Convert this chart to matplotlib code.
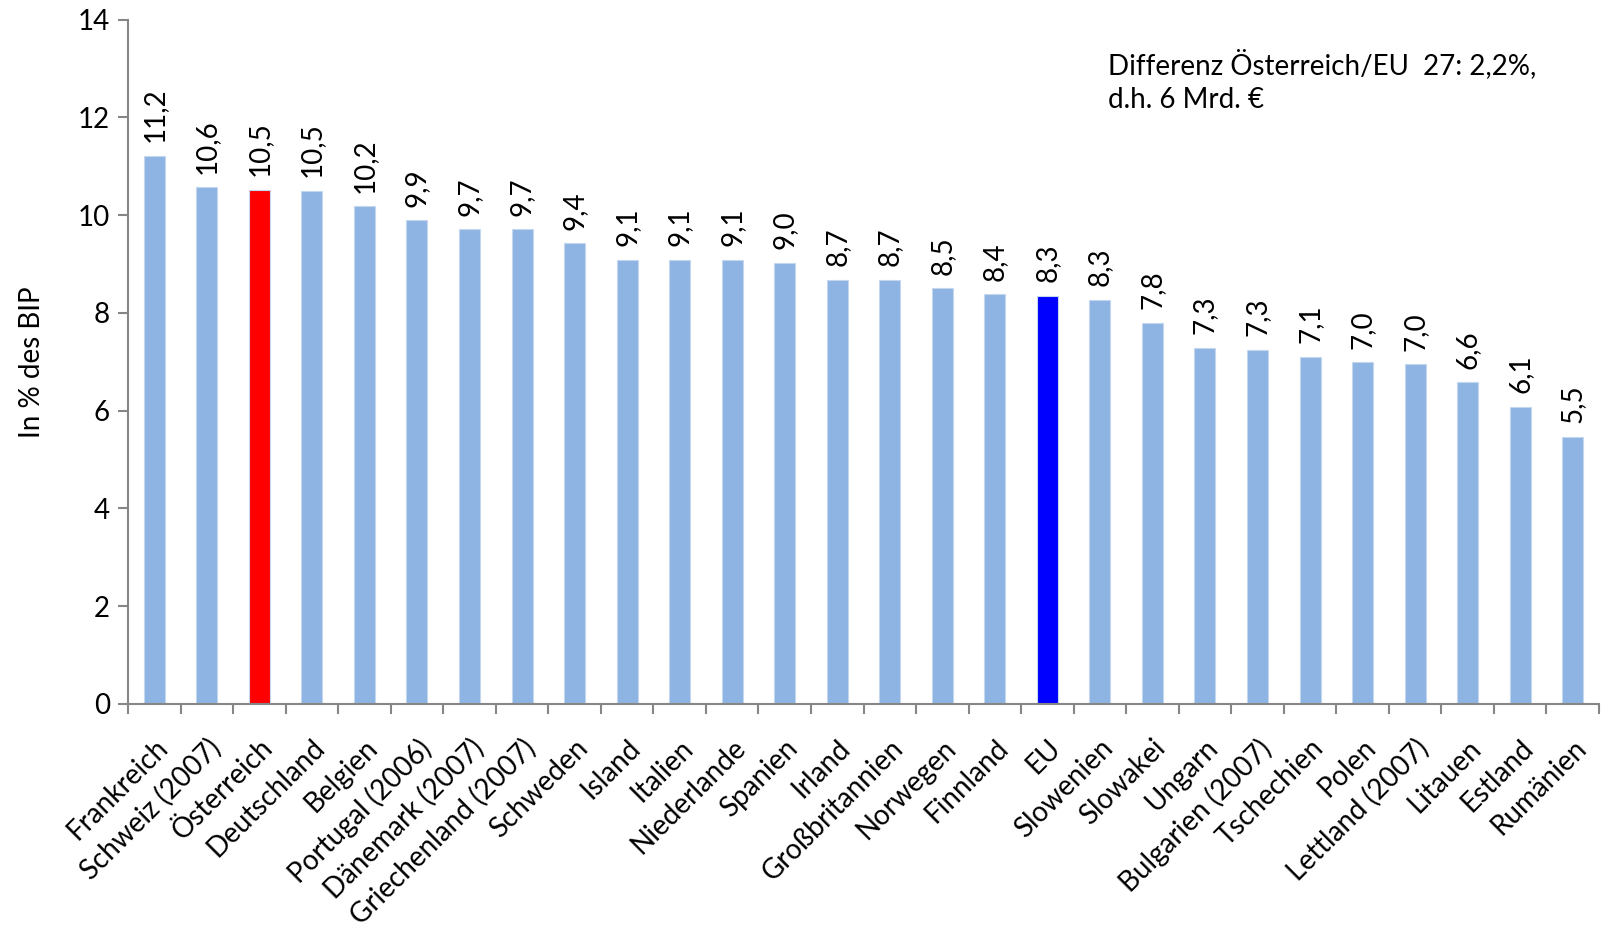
import matplotlib
matplotlib.use('Agg')
import matplotlib.pyplot as plt
import numpy as np

plt.rcParams['font.family'] = ['Lato', 'DejaVu Sans']

countries = ['Frankreich', 'Schweiz (2007)', 'Österreich', 'Deutschland', 'Belgien',
             'Portugal (2006)', 'Dänemark (2007)', 'Griechenland (2007)', 'Schweden',
             'Island', 'Italien', 'Niederlande', 'Spanien', 'Irland', 'Großbritannien',
             'Norwegen', 'Finnland', 'EU', 'Slowenien', 'Slowakei', 'Ungarn',
             'Bulgarien (2007)', 'Tschechien', 'Polen', 'Lettland (2007)', 'Litauen',
             'Estland', 'Rumänien']
values = [11.21, 10.57, 10.51, 10.50, 10.18, 9.89, 9.71, 9.71, 9.42, 9.09, 9.09,
          9.09, 9.02, 8.68, 8.68, 8.50, 8.38, 8.35, 8.27, 7.79, 7.29, 7.25, 7.10,
          6.99, 6.95, 6.58, 6.08, 5.46]
value_labels = ['11,2', '10,6', '10,5', '10,5', '10,2', '9,9', '9,7', '9,7', '9,4',
                '9,1', '9,1', '9,1', '9,0', '8,7', '8,7', '8,5', '8,4', '8,3', '8,3',
                '7,8', '7,3', '7,3', '7,1', '7,0', '7,0', '6,6', '6,1', '5,5']

colors = []
for c in countries:
    if c == 'Österreich':
        colors.append('#FF0000')
    elif c == 'EU':
        colors.append('#0000FF')
    else:
        colors.append('#8EB4E3')

fig = plt.figure(figsize=(16.04, 9.30), dpi=100)
ax = fig.add_axes([128/1604, 1 - 704/930, (1599 - 128)/1604, (704 - 19.5)/930])

x = np.arange(len(countries))
ax.bar(x, values, width=0.4, color=colors, edgecolor='#C5D7EE', linewidth=0.8)

for xi, v, lab in zip(x, values, value_labels):
    ax.text(xi, v + 0.28, lab, rotation=90, ha='center', va='bottom', fontsize=20)

ax.set_xlim(-0.5, len(countries) - 0.5)
ax.set_ylim(0, 14)
ax.set_yticks(range(0, 15, 2))
ax.tick_params(axis='y', labelsize=20, length=7, width=1.5, color='#868686', pad=6)

ax.set_xticks(x)
ax.set_xticklabels(countries, rotation=45, ha='right', va='top', rotation_mode='anchor',
                   fontsize=20)
ax.tick_params(axis='x', length=0, pad=22)
ax.set_xticks(np.arange(-0.5, len(countries), 1.0), minor=True)
ax.tick_params(axis='x', which='minor', length=7, width=1.5, color='#868686')

for s in ['top', 'right']:
    ax.spines[s].set_visible(False)
for s in ['left', 'bottom']:
    ax.spines[s].set_color('#868686')
    ax.spines[s].set_linewidth(1.5)

ax.set_ylabel('In % des BIP', fontsize=20)
ax.yaxis.set_label_coords(-83/1471, 0.5)

fig.text(1108/1604, 1 - 81/930, 'Differenz Österreich/EU  27: 2,2%,\nd.h. 6 Mrd. €',
         fontsize=20, ha='left', va='center', linespacing=1.35)

fig.savefig('out.png', dpi=100)
